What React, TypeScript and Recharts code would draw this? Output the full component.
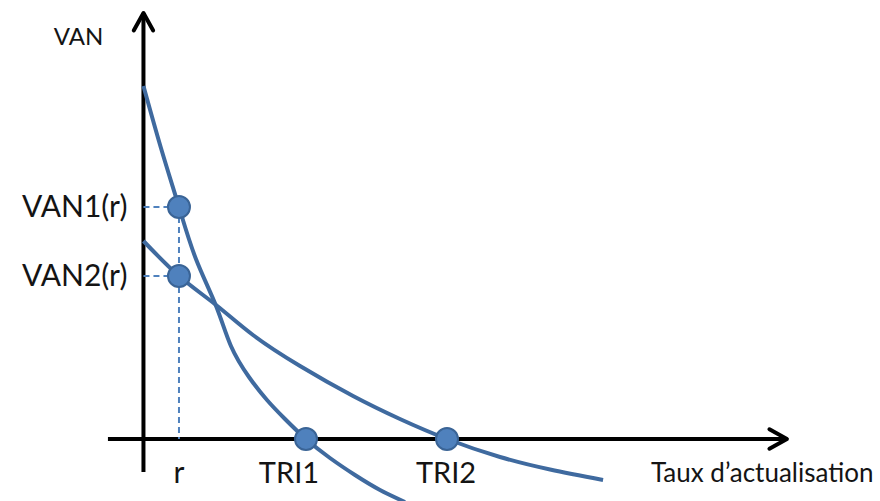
import React from 'react';
import { LineChart, Line, XAxis, YAxis, ReferenceLine, ReferenceDot } from 'recharts';

// Discount rate (x, %) and NPV (y) values
const rateR = 2.03;
const triRates = [9.29, 17.35];
const van1Rates = [0, 1.0, 2.03, 3.0, 4.15, 5.0, 6.03, 7.06, 8.09, 9.29, 10.66, 12.09, 13.52, 14.95];
const van1Values = [35.3, 29.1, 23.2, 18.0, 13.3, 9.3, 6.2, 3.9, 2.0, 0, -1.9, -3.6, -5.1, -6.3];
const van2Rates = [0, 2.03, 4.15, 6.26, 8.95, 11.98, 14.66, 17.35, 20.38, 23.24, 26.27];
const van2Values = [19.8, 16.3, 13.4, 10.4, 7.3, 4.3, 2.0, 0, -1.8, -3.05, -4.1];
const vanAtR = [23.2, 16.3];
const vanLabels = ['VAN1(r)', 'VAN2(r)'];
const xLabels = ['r', 'TRI1', 'TRI2'];
const axisTitles = ['VAN', 'Taux d\u2019actualisation'];

const van1Data = van1Rates.map((x, i) => ({ x, y: van1Values[i] }));
const van2Data = van2Rates.map((x, i) => ({ x, y: van2Values[i] }));

const X_DOMAIN: [number, number] = [-8.2, 42.1];
const Y_DOMAIN: [number, number] = [-6.2, 43.9];
const X_AXIS_EXTENT: [number, number] = [-2.03, 36.78];
const Y_AXIS_EXTENT: [number, number] = [-3.3, 42.6];

const CURVE = '#3f6a9f';
const DOT_FILL = '#4f81bd';
const DOT_STROKE = '#3a6496';
const TEXT = '#141414';
const FONT = 'Lato, "Open Sans", sans-serif';

const ArrowAxis = (props: any) => {
  const { x1, y1, x2, y2 } = props;
  const dx = x2 - x1;
  const dy = y2 - y1;
  const len = Math.sqrt(dx * dx + dy * dy) || 1;
  const ux = dx / len;
  const uy = dy / len;
  const L = 20;
  const th = (29 * Math.PI) / 180;
  const c = Math.cos(th);
  const s = Math.sin(th);
  const ax = x2 - L * (ux * c - uy * s);
  const ay = y2 - L * (uy * c + ux * s);
  const bx = x2 - L * (ux * c + uy * s);
  const by = y2 - L * (uy * c - ux * s);
  return (
    <g>
      <line x1={x1} y1={y1} x2={x2} y2={y2} stroke="#000" strokeWidth={4} />
      <polyline
        points={`${ax},${ay} ${x2},${y2} ${bx},${by}`}
        fill="none"
        stroke="#000"
        strokeWidth={4}
        strokeLinejoin="round"
        strokeLinecap="round"
      />
    </g>
  );
};

const textShape = (text: string, dx: number, dy: number, anchor: string, size: number) => (p: any) => (
  <text
    x={p.cx + dx}
    y={p.cy + dy}
    textAnchor={anchor as any}
    fontSize={size}
    fontFamily={FONT}
    fill={TEXT}
  >
    {text}
  </text>
);

export default function App() {
  return (
    <div style={{ position: 'absolute', left: 0, top: 0, width: 880, height: 501, background: '#fff' }}>
      <LineChart width={880} height={501} margin={{ top: 0, right: 0, bottom: 0, left: 0 }}>
        <XAxis type="number" dataKey="x" domain={X_DOMAIN} allowDataOverflow hide />
        <YAxis type="number" dataKey="y" domain={Y_DOMAIN} allowDataOverflow hide />

        <ReferenceLine
          segment={[{ x: X_AXIS_EXTENT[0], y: 0 }, { x: X_AXIS_EXTENT[1], y: 0 }]}
          ifOverflow="visible"
          shape={ArrowAxis}
        />
        <ReferenceLine
          segment={[{ x: 0, y: Y_AXIS_EXTENT[0] }, { x: 0, y: Y_AXIS_EXTENT[1] }]}
          ifOverflow="visible"
          shape={ArrowAxis}
        />

        {vanAtR.map((v, i) => (
          <ReferenceLine
            key={'h' + i}
            segment={[{ x: 0, y: v }, { x: rateR, y: v }]}
            ifOverflow="visible"
            stroke={DOT_FILL}
            strokeWidth={2}
            strokeDasharray="6 4"
          />
        ))}
        <ReferenceLine
          segment={[{ x: rateR, y: vanAtR[0] }, { x: rateR, y: 0 }]}
          ifOverflow="visible"
          stroke={DOT_FILL}
          strokeWidth={2}
          strokeDasharray="6 4"
        />

        <Line
          data={van1Data}
          dataKey="y"
          type="natural"
          stroke={CURVE}
          strokeWidth={4}
          dot={false}
          activeDot={false}
          isAnimationActive={false}
        />
        <Line
          data={van2Data}
          dataKey="y"
          type="natural"
          stroke={CURVE}
          strokeWidth={4}
          dot={false}
          activeDot={false}
          isAnimationActive={false}
        />

        {vanAtR.map((v, i) => (
          <ReferenceDot key={'d' + i} x={rateR} y={v} r={11} fill={DOT_FILL} stroke={DOT_STROKE} strokeWidth={2} ifOverflow="visible" />
        ))}
        {triRates.map((t, i) => (
          <ReferenceDot key={'t' + i} x={t} y={0} r={11} fill={DOT_FILL} stroke={DOT_STROKE} strokeWidth={2} ifOverflow="visible" />
        ))}

        {vanAtR.map((v, i) => (
          <ReferenceDot key={'l' + i} x={0} y={v} ifOverflow="visible" shape={textShape(vanLabels[i], -16, 10, 'end', 30)} />
        ))}
        <ReferenceDot x={rateR} y={0} ifOverflow="visible" shape={textShape(xLabels[0], 0, 44, 'middle', 30)} />
        <ReferenceDot x={triRates[0]} y={0} ifOverflow="visible" shape={textShape(xLabels[1], -17, 44, 'middle', 29)} />
        <ReferenceDot x={triRates[1]} y={0} ifOverflow="visible" shape={textShape(xLabels[2], -1, 44, 'middle', 29)} />
        <ReferenceDot x={0} y={Y_AXIS_EXTENT[1]} ifOverflow="visible" shape={textShape(axisTitles[0], -65, 32, 'middle', 24)} />
        <ReferenceDot x={X_AXIS_EXTENT[1]} y={0} ifOverflow="visible" shape={textShape(axisTitles[1], -136, 43, 'start', 26)} />
      </LineChart>
    </div>
  );
}
